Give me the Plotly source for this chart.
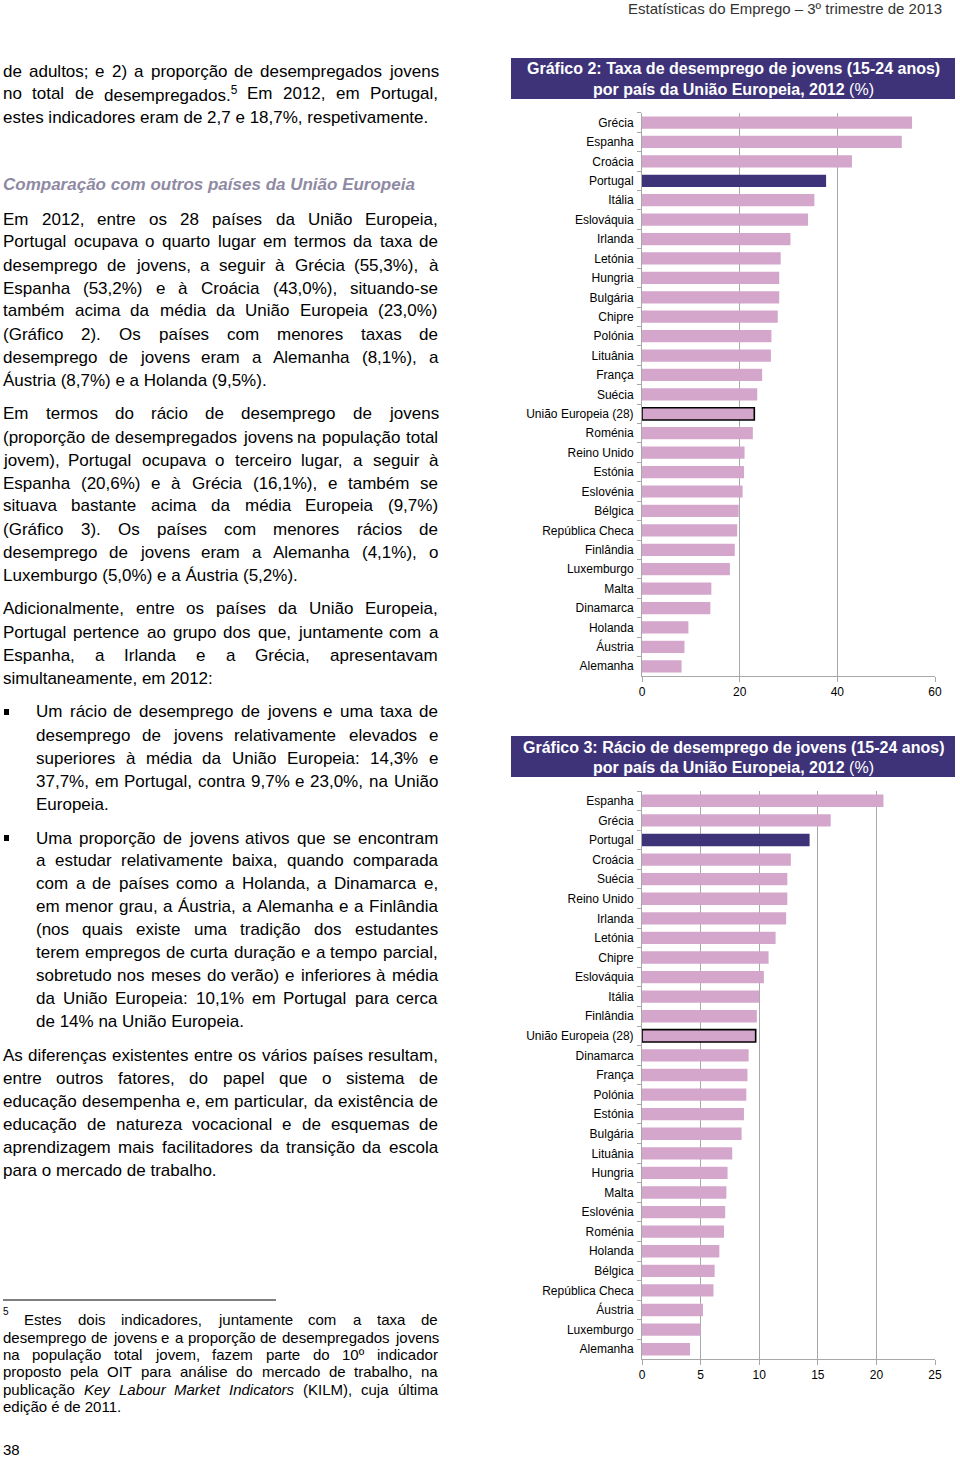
import re
import unicodedata
import plotly.graph_objects as go

# ---------------- DATA ----------------
countries_taxa = ["Grécia", "Espanha", "Croácia", "Portugal", "Itália", "Eslováquia", "Irlanda",
                  "Letónia", "Hungria", "Bulgária", "Chipre", "Polónia", "Lituânia", "França",
                  "Suécia", "União Europeia (28)", "Roménia", "Reino Unido", "Estónia", "Eslovénia",
                  "Bélgica", "República Checa", "Finlândia", "Luxemburgo", "Malta", "Dinamarca",
                  "Holanda", "Áustria", "Alemanha"]
taxa_desemprego = [55.3, 53.2, 43.0, 37.7, 35.3, 34.0, 30.4, 28.4, 28.1, 28.1, 27.8, 26.5, 26.4,
                   24.6, 23.6, 23.0, 22.7, 21.0, 20.9, 20.6, 19.8, 19.5, 19.0, 18.0, 14.2, 14.0,
                   9.5, 8.7, 8.1]

countries_racio = ["Espanha", "Grécia", "Portugal", "Croácia", "Suécia", "Reino Unido", "Irlanda",
                   "Letónia", "Chipre", "Eslováquia", "Itália", "Finlândia", "União Europeia (28)",
                   "Dinamarca", "França", "Polónia", "Estónia", "Bulgária", "Lituânia", "Hungria",
                   "Malta", "Eslovénia", "Roménia", "Holanda", "Bélgica", "República Checa",
                   "Áustria", "Luxemburgo", "Alemanha"]
racio_desemprego = [20.6, 16.1, 14.3, 12.7, 12.4, 12.4, 12.3, 11.4, 10.8, 10.4, 10.0, 9.8, 9.7,
                    9.1, 9.0, 8.9, 8.7, 8.5, 7.7, 7.3, 7.2, 7.1, 7.0, 6.6, 6.2, 6.1, 5.2, 5.0, 4.1]

ticks_taxa = [0, 20, 40, 60]
ticks_racio = [0, 5, 10, 15, 20, 25]

title2_l1 = "Gráfico 2: Taxa de desemprego de jovens (15-24 anos)"
title2_l2 = "por país da União Europeia, 2012"
title3_l1 = "Gráfico 3: Rácio de desemprego de jovens (15-24 anos)"
title3_l2 = "por país da União Europeia, 2012"
header = "Estatísticas do Emprego – 3º trimestre de 2013"

# ---------------- STYLE ----------------
W, H = 960, 1458
PINK = "#D5A6CB"
DARK = "#3E3279"
GRID = "#A8A8A8"
FONT = "Liberation Sans, Arial, sans-serif"


def px(x):
    return x / W


def py(y):
    return 1 - y / H


def colors_for(names):
    return [DARK if n == "Portugal" else PINK for n in names]


def lw_for(names):
    return [1.6 if n.startswith("União") else 0 for n in names]


fig = go.Figure()
fig.add_trace(go.Bar(x=taxa_desemprego, y=countries_taxa, orientation="h",
                     marker=dict(color=colors_for(countries_taxa),
                                 line=dict(color="#000000", width=lw_for(countries_taxa))),
                     xaxis="x", yaxis="y", hoverinfo="x+y"))
fig.add_trace(go.Bar(x=racio_desemprego, y=countries_racio, orientation="h",
                     marker=dict(color=colors_for(countries_racio),
                                 line=dict(color="#000000", width=lw_for(countries_racio))),
                     xaxis="x2", yaxis="y2", hoverinfo="x+y"))

xdom = [px(642), px(935)]
common_x = dict(showgrid=True, gridcolor=GRID, gridwidth=1, showline=True, linecolor=GRID,
                linewidth=1, ticks="outside", ticklen=5, tickcolor=GRID, zeroline=False,
                automargin=False,
                tickfont=dict(size=12, color="#000", family=FONT), fixedrange=True)
common_y = dict(type="category", showgrid=False, showline=True, linecolor=GRID, linewidth=1,
                ticks="outside", ticklen=4, tickcolor=GRID, tickson="boundaries",
                automargin=False,
                tickfont=dict(size=12, color="#000", family=FONT), ticklabelstandoff=5,
                fixedrange=True)

fig.update_layout(
    template="none",
    width=W, height=H, autosize=False, margin=dict(l=0, r=0, t=0, b=0, pad=0),
    paper_bgcolor="white", plot_bgcolor="white", showlegend=False, bargap=0.37,
    font=dict(family=FONT, color="#000"),
    xaxis=dict(domain=xdom, range=[0, 60], tickvals=ticks_taxa, anchor="y", **common_x),
    yaxis=dict(domain=[py(676), py(112.8)], categoryorder="array", categoryarray=countries_taxa,
               range=[len(countries_taxa) - 0.5, -0.5], anchor="x", **common_y),
    xaxis2=dict(domain=xdom, range=[0, 25], tickvals=ticks_racio, anchor="y2", **common_x),
    yaxis2=dict(domain=[py(1359), py(791)], categoryorder="array", categoryarray=countries_racio,
                range=[len(countries_racio) - 0.5, -0.5], anchor="x2", **common_y),
)

shapes = []
annotations = []

# title boxes
for (y0, y1, l1, l2) in [(58, 99, title2_l1, title2_l2), (736, 777, title3_l1, title3_l2)]:
    shapes.append(dict(type="rect", xref="paper", yref="paper", x0=px(511), x1=px(955),
                       y0=py(y1), y1=py(y0), fillcolor=DARK, line=dict(width=0), layer="below"))
    annotations.append(dict(text="<b>" + l1 + "</b>", x=px(733), y=py(y0 + 11), xref="paper",
                            yref="paper", showarrow=False, xanchor="center", yanchor="middle",
                            font=dict(size=16, color="white", family=FONT)))
    annotations.append(dict(text="<b>" + l2 + "</b> (%)", x=px(733), y=py(y0 + 31.5), xref="paper",
                            yref="paper", showarrow=False, xanchor="center", yanchor="middle",
                            font=dict(size=16, color="white", family=FONT)))

# ---------------- TEXT LAYOUT (Arial metrics) ----------------
AW = {' ': 278, '%': 889, '(': 333, ')': 333, ',': 278, '-': 333, '.': 278, ':': 278, ';': 278,
      'º': 365, '–': 556, '/': 278,
      'A': 667, 'B': 667, 'C': 722, 'D': 722, 'E': 667, 'F': 611, 'G': 778, 'H': 722, 'I': 278,
      'J': 500, 'K': 667, 'L': 556, 'M': 833, 'N': 722, 'O': 778, 'P': 667, 'Q': 778, 'R': 722,
      'S': 667, 'T': 611, 'U': 722, 'V': 667, 'W': 944, 'X': 667, 'Y': 667, 'Z': 611,
      'a': 556, 'b': 556, 'c': 500, 'd': 556, 'e': 556, 'f': 278, 'g': 556, 'h': 556, 'i': 222,
      'j': 222, 'k': 500, 'l': 222, 'm': 833, 'n': 556, 'o': 556, 'p': 556, 'q': 556, 'r': 333,
      's': 500, 't': 278, 'u': 556, 'v': 500, 'w': 722, 'x': 500, 'y': 500, 'z': 500}


def cw(ch):
    if ch in AW:
        return AW[ch]
    if ch.isdigit():
        return 556
    base = unicodedata.normalize("NFD", ch)[0]
    if base == 'i' and ch != 'i':
        return 278
    return AW.get(base, 556)


def tw(s, size):
    total = 0.0
    for m in re.finditer(r"<sup>(.*?)</sup>", s):
        total += sum(cw(c) for c in m.group(1)) * 0.7
    plain = re.sub(r"<sup>.*?</sup>", "", s)
    plain = re.sub(r"<[^>]+>", "", plain)
    total += sum(cw(c) for c in plain)
    return total * size / 1000.0


def add_text(text, x, y, size=17, color="#000", anchor="left", **kw):
    annotations.append(dict(text=text, x=px(x), y=py(y), xref="paper", yref="paper",
                            showarrow=False, xanchor=anchor, yanchor="middle", borderpad=0,
                            borderwidth=0,
                            font=dict(size=size, color=color, family=FONT), **kw))


def line(text, y, x0=3, x1=438, size=17, last=False):
    if last:
        add_text(text, x0, y, size)
        return
    words = text.split(" ")
    widths = [tw(w, size) for w in words]
    gap = (x1 - x0 - sum(widths)) / (len(words) - 1)
    x = x0
    for w, wd in zip(words, widths):
        add_text(w, x, y, size)
        x += wd + gap


def paragraph(lines, y0, x0=3, step=23, size=17):
    for i, t in enumerate(lines):
        line(t, y0 + i * step, x0=x0, size=size, last=(i == len(lines) - 1))


add_text(header, 942, 8, size=15, color="#333", anchor="right")

line("de adultos; e 2) a proporção de desempregados jovens", 71)
line("no total de desempregados.<sup>5</sup> Em 2012, em Portugal,", 94)
line("estes indicadores eram de 2,7 e 18,7%, respetivamente.", 117, last=True)

add_text("<b><i>Comparação com outros países da União Europeia</i></b>", 3, 184, color="#8F8AA3")

paragraph(["Em 2012, entre os 28 países da União Europeia,",
           "Portugal ocupava o quarto lugar em termos da taxa de",
           "desemprego de jovens, a seguir à Grécia (55,3%), à",
           "Espanha (53,2%) e à Croácia (43,0%), situando-se",
           "também acima da média da União Europeia (23,0%)",
           "(Gráfico 2). Os países com menores taxas de",
           "desemprego de jovens eram a Alemanha (8,1%), a",
           "Áustria (8,7%) e a Holanda (9,5%)."], 219)

paragraph(["Em termos do rácio de desemprego de jovens",
           "(proporção de desempregados jovens na população total",
           "jovem), Portugal ocupava o terceiro lugar, a seguir à",
           "Espanha (20,6%) e à Grécia (16,1%), e também se",
           "situava bastante acima da média Europeia (9,7%)",
           "(Gráfico 3). Os países com menores rácios de",
           "desemprego de jovens eram a Alemanha (4,1%), o",
           "Luxemburgo (5,0%) e a Áustria (5,2%)."], 414)

paragraph(["Adicionalmente, entre os países da União Europeia,",
           "Portugal pertence ao grupo dos que, juntamente com a",
           "Espanha, a Irlanda e a Grécia, apresentavam",
           "simultaneamente, em 2012:"], 609)

paragraph(["Um rácio de desemprego de jovens e uma taxa de",
           "desemprego de jovens relativamente elevados e",
           "superiores à média da União Europeia: 14,3% e",
           "37,7%, em Portugal, contra 9,7% e 23,0%, na União",
           "Europeia."], 712, x0=36)

paragraph(["Uma proporção de jovens ativos que se encontram",
           "a estudar relativamente baixa, quando comparada",
           "com a de países como a Holanda, a Dinamarca e,",
           "em menor grau, a Áustria, a Alemanha e a Finlândia",
           "(nos quais existe uma tradição dos estudantes",
           "terem empregos de curta duração e a tempo parcial,",
           "sobretudo nos meses do verão) e inferiores à média",
           "da União Europeia: 10,1% em Portugal para cerca",
           "de 14% na União Europeia."], 838, x0=36, step=22.9)

for by in (712, 838):
    shapes.append(dict(type="rect", xref="paper", yref="paper", x0=px(4), x1=px(9),
                       y0=py(by + 3), y1=py(by - 3), fillcolor="#000", line=dict(width=0)))

paragraph(["As diferenças existentes entre os vários países resultam,",
           "entre outros fatores, do papel que o sistema de",
           "educação desempenha e, em particular, da existência de",
           "educação de natureza vocacional e de esquemas de",
           "aprendizagem mais facilitadores da transição da escola",
           "para o mercado de trabalho."], 1055)

# footnote
shapes.append(dict(type="line", xref="paper", yref="paper", x0=px(3), x1=px(276),
                   y0=py(1300), y1=py(1300), line=dict(color="#000", width=1)))
add_text("5", 3, 1311, size=10)
line("Estes dois indicadores, juntamente com a taxa de", 1319, x0=24, size=15)
fn = ["desemprego de jovens e a proporção de desempregados jovens",
      "na população total jovem, fazem parte do 10º indicador",
      "proposto pela OIT para análise do mercado de trabalho, na",
      "publicação <i>Key</i> <i>Labour</i> <i>Market</i> <i>Indicators</i> (KILM), cuja última",
      "edição é de 2011."]
for i, t in enumerate(fn):
    line(t, 1337 + i * 17.4, size=15, last=(i == len(fn) - 1))

add_text("38", 3, 1449, size=15)

fig.update_layout(shapes=shapes, annotations=annotations)
fig.write_html("out.html", config={"displayModeBar": False, "responsive": False},
               post_script="document.body.style.margin='0';document.body.style.padding='0';"
                           "document.body.style.overflow='hidden';"
                           "document.documentElement.style.overflow='hidden';")
